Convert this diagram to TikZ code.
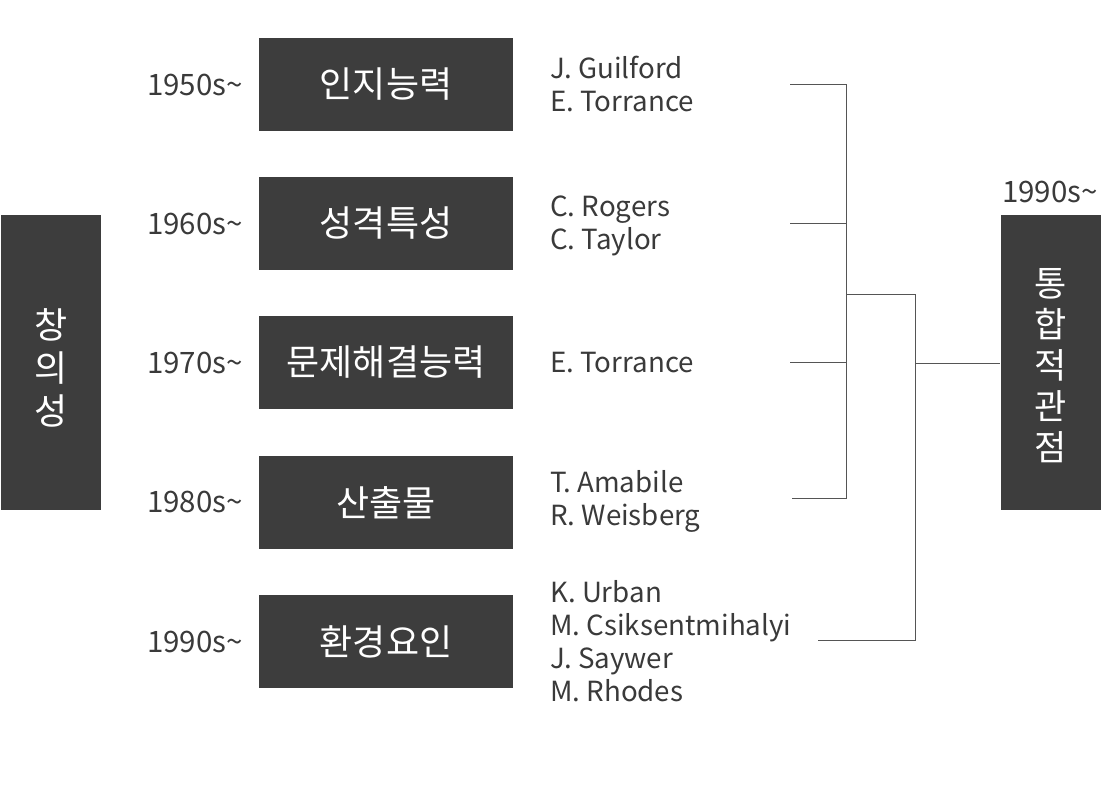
\documentclass[tikz,border=0pt]{standalone}
\usepackage{fontspec}
\setmainfont{Noto Sans CJK KR}
\definecolor{boxc}{HTML}{3D3D3D}
\definecolor{txtc}{HTML}{3A3A3A}
\definecolor{linec}{HTML}{555555}
\begin{document}
\begin{tikzpicture}[x=1pt,y=-1pt,
  cat/.style={fill=boxc,text=white,minimum width=254pt,minimum height=93pt,inner sep=0pt,font=\fontsize{36}{40}\selectfont},
  side/.style={fill=boxc,text=white,minimum width=100pt,minimum height=295pt,inner sep=0pt,align=center},
  year/.style={anchor=east,text=txtc,inner sep=0pt,font=\fontsize{29.5}{33}\selectfont},
  names/.style={anchor=west,text=txtc,inner sep=0pt,align=left,font=\fontsize{27.7}{33}\selectfont},
  conn/.style={draw=linec,line width=1pt}]
\useasboundingbox (0,0) rectangle (1101,811);
\fill[white] (0,0) rectangle (1101,811);
% left box
\node[side] (cre) at (51,362.5) {};
\node[text=white,inner sep=0pt,align=center,font=\fontsize{36}{43}\selectfont] (cret) at (51,368) {창\\의\\성};
% right box
\node[side] (int) at (1050.5,362.5) {};
\node[text=white,inner sep=0pt,align=center,font=\fontsize{35}{41}\selectfont] (intt) at (1050.5,366) {통\\합\\적\\관\\점};
\node[year,anchor=center] (y90r) at (1050,192) {1990s\char`~};
% categories
\node[cat] (c1) at (386,84.5) {인지능력};
\node[cat] (c2) at (386,223.5) {성격특성};
\node[cat] (c3) at (386,362.5) {문제해결능력};
\node[cat] (c4) at (386,502.5) {산출물};
\node[cat] (c5) at (386,641.5) {환경요인};
% years
\node[year] (y1) at (243,85) {1950s\char`~};
\node[year] (y2) at (243,224) {1960s\char`~};
\node[year] (y3) at (243,363) {1970s\char`~};
\node[year] (y4) at (243,502) {1980s\char`~};
\node[year] (y5) at (243,642) {1990s\char`~};
% names
\node[names] (n1) at (550,83.5) {J. Guilford\\E. Torrance};
\node[names] (n2) at (550,226) {C. Rogers\\C. Taylor};
\node[names] (n3) at (550,363) {E. Torrance};
\node[names] (n4) at (550,501.5) {T. Amabile\\R. Weisberg};
\node[names] (n5) at (550,641.5) {K. Urban\\M. Csiksentmihalyi\\J. Saywer\\M. Rhodes};
% connector coordinates
\coordinate (a1) at (790,84.5);
\coordinate (a2) at (790,223.5);
\coordinate (a3) at (790,362.5);
\coordinate (a4) at (792,498.5);
\coordinate (a5) at (818,640.5);
\coordinate (v1t) at (846.5,84.5);
\coordinate (v1b) at (846.5,498.5);
\coordinate (m1) at (846.5,294.5);
\coordinate (v2t) at (915.5,294.5);
\coordinate (v2b) at (915.5,640.5);
\coordinate (m2) at (915.5,363);
\draw[conn] (a1) -- (v1t) -- (v1b) -- (a4);
\draw[conn] (a2) -- (a2 -| v1t);
\draw[conn] (a3) -- (a3 -| v1t);
\draw[conn] (m1) -- (v2t) -- (v2b) -- (a5);
\draw[conn] (m2) -- (m2 -| int.west);
\end{tikzpicture}
\end{document}
